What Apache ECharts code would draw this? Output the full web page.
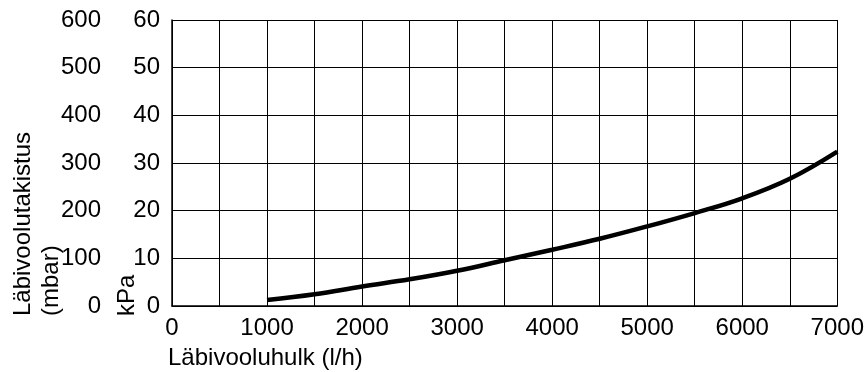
<!DOCTYPE html>
<html>
<head>
<meta charset="utf-8">
<script src="https://cdn.jsdelivr.net/npm/echarts@6/dist/echarts.min.js"></script>
<style>html,body{margin:0;padding:0;background:#fff}#c{width:867px;height:372px}</style>
</head>
<body>
<div id="c"></div>
<script>
const flowValues = [1000, 1500, 2000, 2500, 3000, 3500, 4000, 4500, 5000, 5500, 6000, 6500, 7000];
const pressureKPa = [1.25, 2.45, 4.1, 5.6, 7.4, 9.6, 11.8, 14.1, 16.7, 19.5, 22.6, 26.7, 32.4];
const xAxisTitle = 'Läbivooluhulk (l/h)';
const yTitleMain = 'Läbivoolutakistus';
const yTitleMbar = '(mbar)';
const yTitleKPa = 'kPa';

const FONT = '"Liberation Sans", Arial, sans-serif';
const FS = 24;
const chart = echarts.init(document.getElementById('c'));
const rot = (text, x) => ({
  type: 'text', x: x, y: 316, rotation: Math.PI / 2,
  style: { text: text, font: FS + 'px ' + FONT, fill: '#000', textAlign: 'left', textVerticalAlign: 'middle' }
});
chart.setOption({
  animation: false,
  grid: { left: 172, right: 28, top: 20, bottom: 66 },
  xAxis: {
    type: 'value', min: 0, max: 7000, interval: 1000,
    name: xAxisTitle, nameLocation: 'start', nameGap: 0,
    nameTextStyle: { fontSize: FS, fontFamily: FONT, color: '#000', align: 'left', verticalAlign: 'top', padding: [40, 0, 0, -4] },
    axisLine: { show: true, lineStyle: { color: '#000', width: 1.5 } },
    axisTick: { show: false },
    axisLabel: { fontSize: FS, fontFamily: FONT, color: '#000', margin: 10, formatter: v => String(v) },
    splitLine: { show: true, lineStyle: { color: '#000', width: 1 } },
    minorTick: { show: false, splitNumber: 2 },
    minorSplitLine: { show: true, lineStyle: { color: '#000', width: 1 } }
  },
  yAxis: [
    {
      type: 'value', min: 0, max: 60, interval: 10, position: 'left',
      axisLine: { show: true, lineStyle: { color: '#000', width: 1.5 } },
      axisTick: { show: false },
      axisLabel: { fontSize: FS, fontFamily: FONT, color: '#000', margin: 12, formatter: v => String(v) },
      splitLine: { show: true, lineStyle: { color: '#000', width: 1 } }
    },
    {
      type: 'value', min: 0, max: 600, interval: 100, position: 'left', offset: 59,
      axisLine: { show: false }, axisTick: { show: false },
      axisLabel: { fontSize: FS, fontFamily: FONT, color: '#000', margin: 12, formatter: v => String(v) },
      splitLine: { show: false }
    }
  ],
  graphic: [rot(yTitleMain, 23), rot(yTitleMbar, 51), rot(yTitleKPa, 127)],
  series: [{
    type: 'line', yAxisIndex: 0, smooth: 0.4, showSymbol: false,
    data: flowValues.map((v, i) => [v, pressureKPa[i]]),
    lineStyle: { color: '#000', width: 4.5 }
  }]
});
</script>
</body>
</html>
